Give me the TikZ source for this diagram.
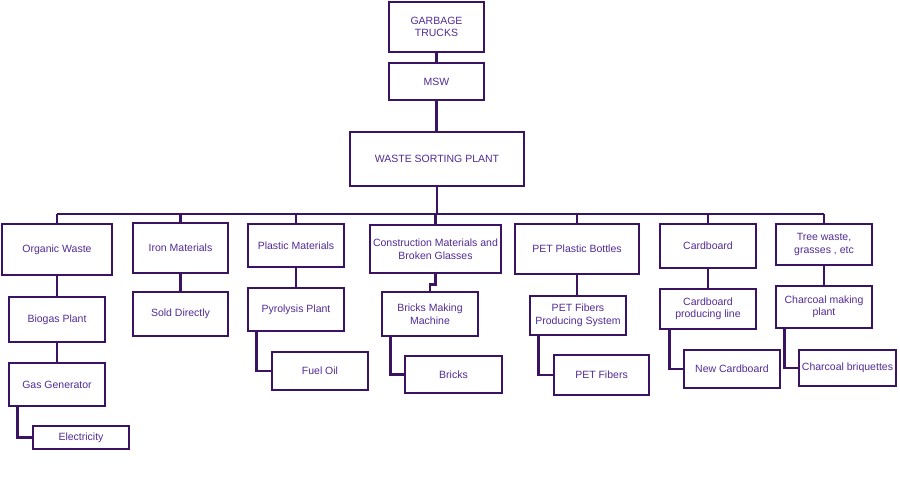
\documentclass[tikz,border=0pt]{standalone}
\usepackage{fontspec}
\setmainfont{Liberation Sans}
\definecolor{boxline}{RGB}{58,20,98}
\definecolor{boxtext}{RGB}{82,44,150}
\tikzset{
  box/.style={draw=boxline, line width=2.8pt, fill=white, inner sep=0pt, align=center,
    text=boxtext, font=\fontsize{10.5}{12.5}\selectfont},
  link/.style={draw=boxline, line width=2.8pt}
}
\newcommand{\bx}[6]{\node[box, minimum width=#4pt, minimum height=#5pt] (#1) at (#2,#3) {#6};}
\begin{document}
\begin{tikzpicture}[x=1pt,y=-1pt]
\useasboundingbox (0,0) rectangle (900,480);
\coordinate (bus) at (0,214);
% top chain
\bx{gt}{436.5}{27}{95}{50}{GARBAGE\\TRUCKS}
\bx{msw}{436.5}{81.5}{95}{37}{MSW}
\bx{wsp}{437}{159}{174}{54}{WASTE SORTING PLANT}
% first row
\bx{ow}{57}{249.5}{110}{51}{Organic Waste}
\bx{im}{180.5}{248}{95}{50}{Iron Materials}
\bx{pm}{296}{245.5}{96}{43}{Plastic Materials}
\bx{cm}{435.5}{249}{131}{48}{Construction Materials and\\Broken Glasses}
\bx{pet}{577}{249}{124}{50}{PET Plastic Bottles}
\bx{cb}{708}{246}{96}{44}{Cardboard}
\bx{tw}{824}{244.5}{96}{41}{Tree waste,\\grasses , etc}
% second row
\bx{bp}{57}{319.5}{96}{45}{Biogas Plant}
\bx{sd}{180.5}{314}{95}{44}{Sold Directly}
\bx{pp}{296}{309.5}{96}{43}{Pyrolysis Plant}
\bx{bmm}{430}{314}{96}{44}{Bricks Making\\Machine}
\bx{pfps}{578}{315.5}{96}{39}{PET Fibers\\Producing System}
\bx{cpl}{708}{309}{96}{40}{Cardboard\\producing line}
\bx{cmp}{824}{307}{96}{42}{Charcoal making\\plant}
% third row
\bx{gg}{57}{384.5}{96}{43}{Gas Generator}
\bx{fo}{320}{371}{96}{38}{Fuel Oil}
\bx{br}{453.5}{374.5}{97}{37}{Bricks}
\bx{pf}{601.5}{375}{95}{40}{PET Fibers}
\bx{nc}{732}{369}{96}{38}{New Cardboard}
\bx{cbq}{847.5}{368}{97}{36}{Charcoal briquettes}
% fourth row
\bx{el}{81}{437.5}{96}{23}{Electricity}
% connectors
\draw[link] (gt.south) -- (msw.north);
\draw[link] (msw.south) -- (msw.south |- wsp.north);
\draw[link] (wsp.south) -- (wsp.south |- bus);
\draw[link] (ow.north |- bus) -- (tw.north |- bus);
\foreach \n in {ow,im,pm,cm,pet,cb,tw} {
  \draw[link] (\n.north) -- (\n.north |- bus);
}
\draw[link] (ow.south) -- (bp.north);
\draw[link] (bp.south) -- (gg.north);
\draw[link] ([xshift=10pt]gg.south west) |- (el.west);
\draw[link] (im.south) -- (sd.north);
\draw[link] (pm.south) -- (pp.north);
\draw[link] ([xshift=10pt]pp.south west) |- (fo.west);
\draw[link] (cm.south) -- ++(0,10) -| (bmm.north);
\draw[link] ([xshift=10pt]bmm.south west) |- (br.west);
\draw[link] (pet.south) -- (pet.south |- pfps.north);
\draw[link] ([xshift=10pt]pfps.south west) |- (pf.west);
\draw[link] (cb.south) -- (cpl.north);
\draw[link] ([xshift=11pt]cpl.south west) |- (nc.west);
\draw[link] (tw.south) -- (cmp.north);
\draw[link] ([xshift=10pt]cmp.south west) |- (cbq.west);
\end{tikzpicture}
\end{document}
